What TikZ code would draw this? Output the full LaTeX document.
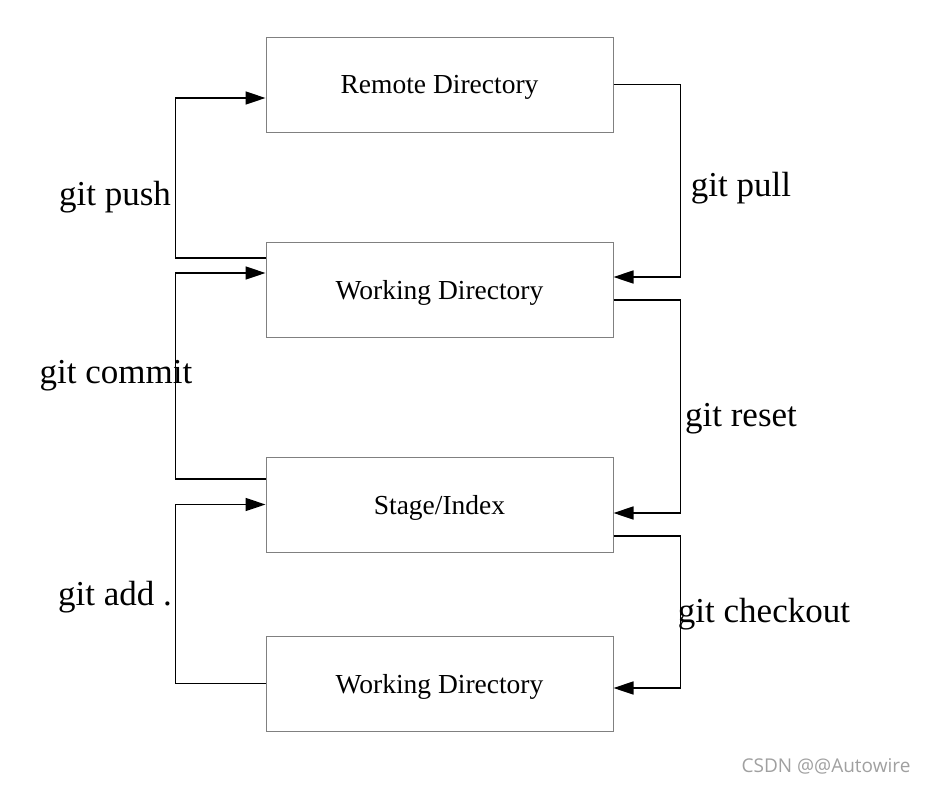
\documentclass[tikz,border=0pt]{standalone}
\usepackage{fontspec}
\setmainfont{Liberation Serif}
\newfontfamily\wmfont{Open Sans}
\usetikzlibrary{arrows.meta}
\definecolor{boxgray}{HTML}{808080}
\definecolor{wmgray}{HTML}{A0A0A0}
\tikzset{
    dirbox/.style={rectangle, draw=boxgray, line width=1pt, minimum width=347pt, minimum height=95pt, inner sep=0pt, text depth=0pt, font=\fontsize{27.5}{32}\selectfont},
    gitlabel/.style={font=\fontsize{35}{40}\selectfont, inner sep=0pt},
    gitarrow/.style={line width=1.6pt, -{Triangle[length=20pt,width=13pt]}}
}
\begin{document}
\begin{tikzpicture}[x=1pt,y=-1pt]
        \useasboundingbox (0,0) rectangle (926,785);
        \node[dirbox] (remote) at (439.5,84.5) {Remote Directory};
        \node[dirbox] (working) at (439.5,289.5) {Working Directory};
        \node[dirbox] (stage) at (439.5,504.5) {Stage/Index};
        \node[dirbox] (workcopy) at (439.5,683.5) {Working Directory};
        \draw[gitarrow] ([yshift=31.5pt]working.west) -- ++(-90,0) |- ([yshift=-13.5pt]remote.west);
        \draw[gitarrow] (remote.east) -- ++(67,0) |- ([yshift=12.5pt]working.east);
        \draw[gitarrow] ([yshift=25.5pt]stage.west) -- ++(-90,0) |- ([yshift=16.5pt]working.west);
        \draw[gitarrow] ([yshift=-10.5pt]working.east) -- ++(67,0) |- ([yshift=-8.5pt]stage.east);
        \draw[gitarrow] (workcopy.west) -- ++(-90,0) |- (stage.west);
        \draw[gitarrow] ([yshift=-31.5pt]stage.east) -- ++(67,0) |- ([yshift=-4.5pt]workcopy.east);
        \node[gitlabel] (push) at (115,197) {git push};
        \node[gitlabel] (pull) at (741,188) {git pull};
        \node[gitlabel] (commit) at (116,376) {git commit};
        \node[gitlabel] (reset) at (741,419) {git reset};
        \node[gitlabel] (add) at (115,597) {git add .};
        \node[gitlabel] (checkout) at (764,614) {git checkout};
        \node[text=wmgray, font=\wmfont\fontsize{19}{22}\selectfont, inner sep=0pt] (mark) at (826,766) {CSDN @@Autowire};
    \end{tikzpicture}
\end{document}
